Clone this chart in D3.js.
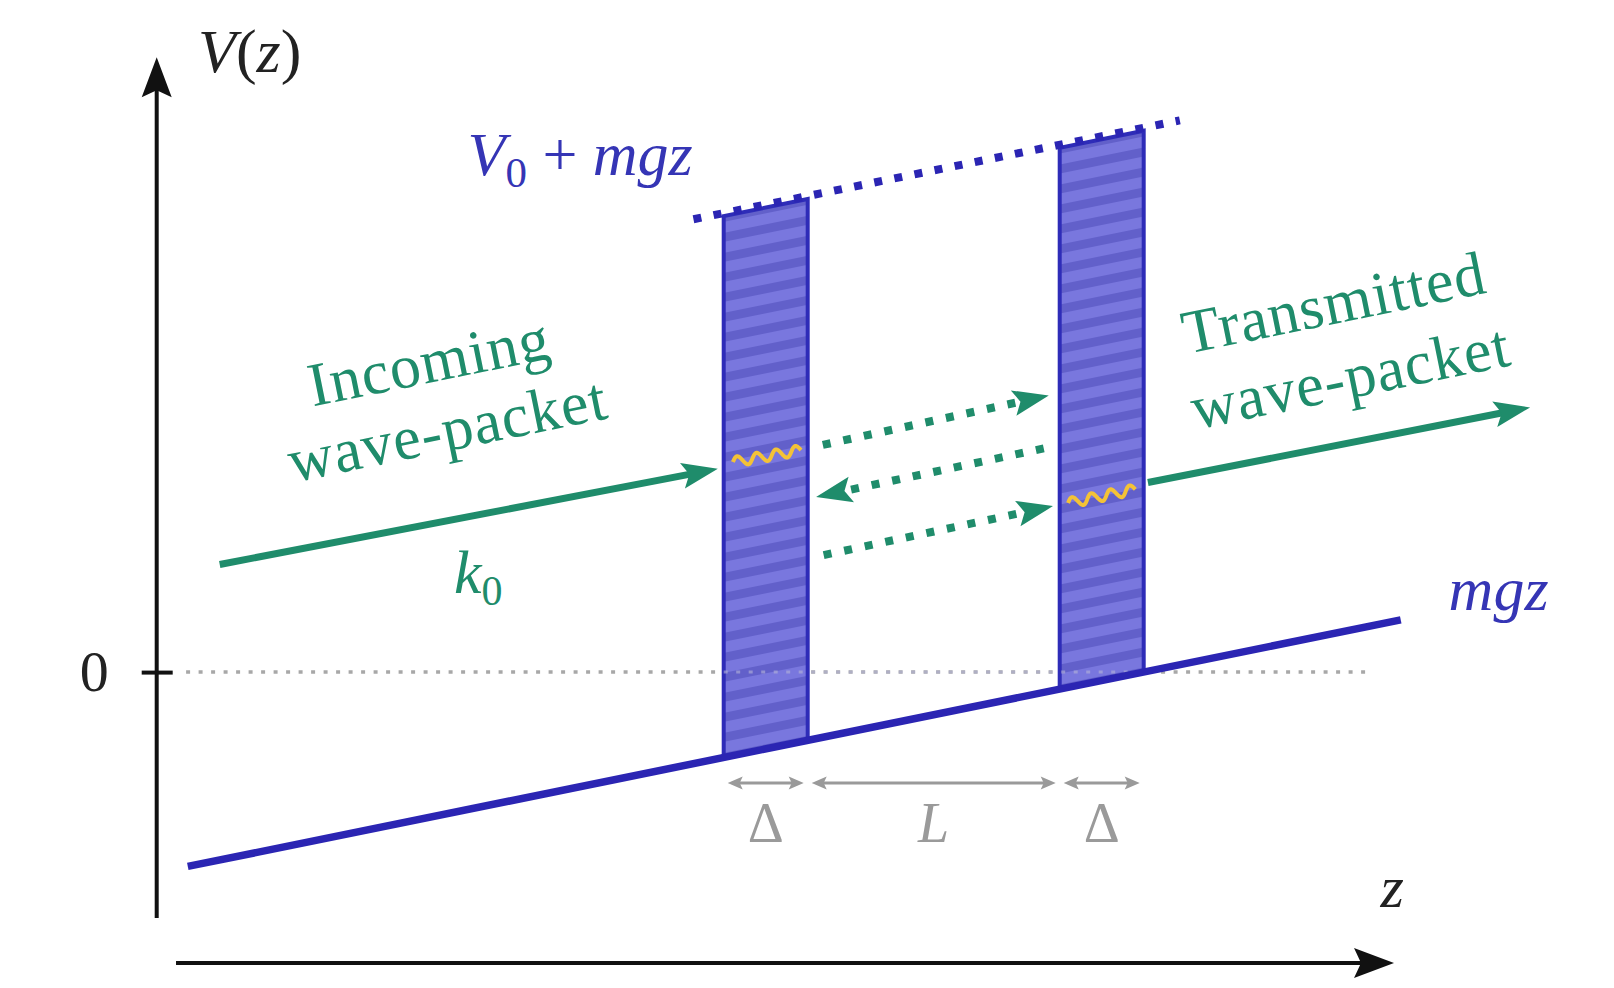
<!DOCTYPE html>
<html>
<head>
<meta charset="utf-8">
<script src="https://cdn.jsdelivr.net/npm/d3@7"></script>
<style>
  html, body { margin: 0; padding: 0; background: #fff; }
  svg { display: block; }
  text { font-family: "Liberation Serif", "DejaVu Serif", serif; }
</style>
</head>
<body>
<svg width="1614" height="988"></svg>
<script>
// potential V(z) = mgz (units with mg = 1, barrier width = 1), two barriers of height V0
var V0 = 31.7;
var barriers = [[-5, -4], [-1, 0]];
var mgzRange = [-11.38, 3.06];
var zeroRange = [-11.4, 2.68];
var topRange = [-5.36, 0.43];

// wave-packet arrows, [z, V] of start and tip
var packets = [
  {from: [-11.0, 6.3], to: [-5.07, 11.9], dotted: false},
  {from: [0.05, 11.1], to: [4.6, 15.5], dotted: false},
  {from: [-3.82, 13.3], to: [-1.13, 16.2], dotted: true},
  {from: [-1.19, 13.1], to: [-3.9, 10.25], dotted: true},
  {from: [-3.81, 6.85], to: [-1.08, 9.72], dotted: true}
];

// yellow wiggles inside the barriers
var wiggles = [
  {from: [-4.89, 12.3], to: [-4.08, 13.0]},
  {from: [-0.9, 9.9], to: [-0.1, 10.7]}
];

// widths marked under the barriers
var spans = [
  {z: [-5, -4], label: "Δ", italic: false},
  {z: [-4, -1], label: "L", italic: true},
  {z: [-1, 0], label: "Δ", italic: false}
];
var spanV = -6.5, spanLabelV = -9.95;

var green = "#1f8c6b", blue = "#2b25b3", gray = "#9a9a9a";

var svg = d3.select("svg");
var x = d3.scaleLinear().domain([-11.75, 3]).range([156.7, 1395.7]);
var y = d3.scaleLinear().domain([-14.4, 36]).range([918, 57.3]);
var angle = Math.atan((y(0) - y(1)) / (x(1) - x(0))) * 180 / Math.PI;

var defs = svg.append("defs");

function marker(id, path, color, cut) {
  defs.append("marker").attr("id", id)
    .attr("markerUnits", "userSpaceOnUse")
    .attr("orient", "auto-start-reverse")
    .attr("refX", -cut).attr("refY", 0)
    .attr("markerWidth", 1).attr("markerHeight", 1)
    .style("overflow", "visible")
    .append("path").attr("d", path).attr("fill", color);
}
marker("headBlack", "M0,0 L-40,-15 L-33,0 L-40,15 Z", "#111", 20);
marker("headGreen", "M0,0 L-36,-13 L-29,0 L-36,13 Z", green, 24);
marker("headGray", "M0,0 L-15,-6.5 L-12,0 L-15,6.5 Z", gray, 6);

var stripes = defs.append("pattern").attr("id", "stripes")
  .attr("patternUnits", "userSpaceOnUse")
  .attr("width", 400).attr("height", 20)
  .attr("patternTransform", "skewY(" + (-angle) + ")");
stripes.append("rect").attr("width", 400).attr("height", 20).attr("fill", "#7977de");
stripes.append("rect").attr("width", 400).attr("height", 9).attr("fill", "#6260ca");

// pixel endpoints, pulled back by cut at the end (and start)
function seg(p0, p1, cutEnd, cutStart) {
  var a = [x(p0[0]), y(p0[1])], b = [x(p1[0]), y(p1[1])];
  var dx = b[0] - a[0], dy = b[1] - a[1], l = Math.hypot(dx, dy);
  var ux = dx / l, uy = dy / l;
  cutStart = cutStart || 0;
  return [a[0] + ux * cutStart, a[1] + uy * cutStart, b[0] - ux * cutEnd, b[1] - uy * cutEnd];
}
function drawSeg(g, s) {
  return g.append("line").attr("x1", s[0]).attr("y1", s[1]).attr("x2", s[2]).attr("y2", s[3]);
}

// zero level
svg.append("line")
  .attr("x1", x(zeroRange[0])).attr("x2", x(zeroRange[1]))
  .attr("y1", y(0)).attr("y2", y(0))
  .attr("stroke", "#a8a8a8").attr("stroke-width", 3.5)
  .attr("stroke-dasharray", "4 8.5");

// barriers
svg.append("g").selectAll("polygon").data(barriers).join("polygon")
  .attr("points", function(d) {
    return [[d[0], d[0]], [d[1], d[1]], [d[1], d[1] + V0], [d[0], d[0] + V0]]
      .map(function(p) { return x(p[0]) + "," + y(p[1]); }).join(" ");
  })
  .attr("fill", "url(#stripes)")
  .attr("stroke", "#2e2cb8").attr("stroke-width", 4).attr("stroke-linejoin", "miter");

// zero dots show faintly over the barriers
svg.append("line")
  .attr("x1", x(barriers[0][0])).attr("x2", x(barriers[1][1]))
  .attr("y1", y(0)).attr("y2", y(0))
  .attr("stroke", "#b4b4d8").attr("stroke-width", 3).attr("opacity", 0.6)
  .attr("stroke-dasharray", "4 8.5");

// mgz line
svg.append("line")
  .attr("x1", x(mgzRange[0])).attr("y1", y(mgzRange[0]))
  .attr("x2", x(mgzRange[1])).attr("y2", y(mgzRange[1]))
  .attr("stroke", blue).attr("stroke-width", 7.5);

// V0 + mgz dotted line
svg.append("line")
  .attr("x1", x(topRange[0])).attr("y1", y(topRange[0] + V0) - 3)
  .attr("x2", x(topRange[1])).attr("y2", y(topRange[1] + V0) - 3)
  .attr("stroke", blue).attr("stroke-width", 8)
  .attr("stroke-dasharray", "8 12.5");

// axes
var axes = svg.append("g").attr("stroke", "#111").attr("stroke-width", 4);
drawSeg(axes, seg([-11.75, -14.4], [-11.75, 36], 20)).attr("marker-end", "url(#headBlack)");
drawSeg(axes, seg([-11.52, -17.03], [2.98, -17.03], 20)).attr("marker-end", "url(#headBlack)");

var yAxis = svg.append("g").attr("transform", "translate(" + x(-11.75) + ",0)")
  .call(d3.axisLeft(y).tickValues([0]).tickSize(15).tickPadding(33));
yAxis.select(".domain").remove();
yAxis.selectAll(".tick line").attr("x1", 16).attr("stroke", "#111").attr("stroke-width", 4);
yAxis.selectAll(".tick text").attr("font-size", 58).attr("fill", "#222")
  .style("font-family", "Liberation Serif, serif");

// wave-packet arrows
var arrows = svg.append("g").attr("stroke", green);
packets.forEach(function(d) {
  var l = drawSeg(arrows, seg(d.from, d.to, 24)).attr("marker-end", "url(#headGreen)");
  if (d.dotted) l.attr("stroke-width", 8).attr("stroke-dasharray", "8 13");
  else l.attr("stroke-width", 7);
});

// wiggles
var wig = d3.line();
svg.append("g").selectAll("path").data(wiggles).join("path")
  .attr("d", function(d) {
    var s = seg(d.from, d.to, 0), dx = s[2] - s[0], dy = s[3] - s[1];
    var l = Math.hypot(dx, dy), nx = dy / l, ny = -dx / l;
    return wig(d3.range(0, 1.0001, 1 / 80).map(function(t) {
      var a = 5 * Math.sin(t * 2 * Math.PI * 3.5);
      return [s[0] + dx * t + nx * a, s[1] + dy * t + ny * a];
    }));
  })
  .attr("fill", "none").attr("stroke", "#f4c237").attr("stroke-width", 4)
  .attr("stroke-linejoin", "round");

// width markers
var dims = svg.append("g");
spans.forEach(function(d) {
  drawSeg(dims, seg([d.z[0], spanV], [d.z[1], spanV], 10, 10))
    .attr("stroke", gray).attr("stroke-width", 3)
    .attr("marker-start", "url(#headGray)").attr("marker-end", "url(#headGray)");
  dims.append("text")
    .attr("x", x((d.z[0] + d.z[1]) / 2)).attr("y", y(spanLabelV))
    .attr("text-anchor", "middle").attr("font-size", 56).attr("fill", gray)
    .attr("font-style", d.italic ? "italic" : "normal")
    .text(d.label);
});

// labels
var t = svg.append("text").attr("x", 198).attr("y", 72).attr("font-size", 62).attr("fill", "#222");
t.append("tspan").attr("font-style", "italic").text("V");
t.append("tspan").text("(");
t.append("tspan").attr("font-style", "italic").text("z");
t.append("tspan").text(")");

svg.append("text").attr("x", x(2.82)).attr("y", y(-13.76)).attr("font-size", 60)
  .attr("font-style", "italic").attr("fill", "#222").text("z");

var v0 = svg.append("text").attr("x", x(-8.05)).attr("y", y(29.1)).attr("font-size", 62).attr("fill", "#3535b5");
v0.append("tspan").attr("font-style", "italic").text("V");
v0.append("tspan").attr("font-size", 43).attr("dy", 12).text("0");
v0.append("tspan").attr("dy", -12).text(" + ");
v0.append("tspan").attr("font-style", "italic").text("mgz");

svg.append("text").attr("x", x(3.63)).attr("y", y(3.63)).attr("font-size", 62)
  .attr("font-style", "italic").attr("fill", "#3535b5").text("mgz");

var k = svg.append("text").attr("x", x(-8.21)).attr("y", y(4.63)).attr("font-size", 62).attr("fill", green);
k.append("tspan").attr("font-style", "italic").text("k");
k.append("tspan").attr("font-size", 42).attr("dy", 12).text("0");

var words = [
  {text: "Incoming", at: [-8.46, 16.98]},
  {text: "wave-packet", at: [-8.24, 13.0]},
  {text: "Transmitted", at: [2.31, 20.43]},
  {text: "wave-packet", at: [2.51, 16.1]}
];
svg.append("g").selectAll("text").data(words).join("text")
  .attr("transform", function(d) {
    return "translate(" + x(d.at[0]) + "," + y(d.at[1]) + ") rotate(" + (-angle) + ")";
  })
  .attr("text-anchor", "middle").attr("font-size", 62).attr("fill", green)
  .attr("letter-spacing", 1)
  .text(function(d) { return d.text; });
</script>
</body>
</html>
